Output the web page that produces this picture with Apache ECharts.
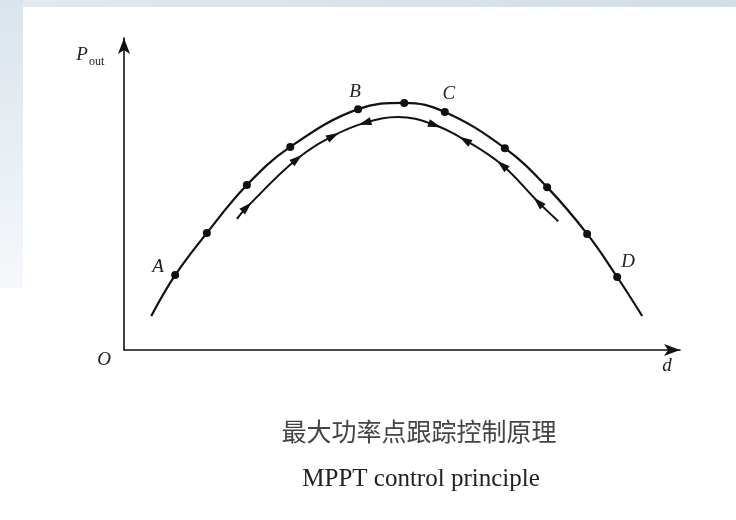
<!DOCTYPE html>
<html>
<head>
<meta charset="utf-8">
<script src="https://cdn.jsdelivr.net/npm/echarts@6/dist/echarts.min.js"></script>
<style>
  html, body { margin: 0; padding: 0; background: #fff; }
  #chart { width: 736px; height: 520px; }
</style>
</head>
<body>
<div id="chart"></div>
<script>
// P-d curve (relative units, d on x, Pout on y)
const curveD = [4.9, 9.2, 14.9, 22.1, 29.9, 42.1, 50.4, 57.7, 68.5, 76.1, 83.3, 88.7, 93.2];
const curveP = [10.9, 24.0, 37.5, 52.9, 65.1, 77.2, 79.2, 76.3, 64.7, 52.2, 37.2, 23.4, 10.9];
const curveDot = [false, true, true, true, true, true, true, true, true, true, true, true, false];
const curveNames = ["", "A", "", "", "", "B", "", "C", "", "", "", "D", ""];

// tracking path drawn just inside the curve
const trackD = [20.3, 22.1, 31.1, 37.6, 43.3, 49.3, 55.9, 61.3, 68.0, 74.5, 78.1];
const trackP = [42.0, 45.8, 61.2, 68.6, 72.8, 74.7, 72.1, 67.3, 59.3, 47.4, 41.3];
const trackArrow = [0, 1, 1, 1, -1, 0, 1, -1, -1, -1, 0]; // 1 = towards larger d, -1 = back

const captionCn = "最大功率点跟踪控制原理";
const captionEn = "MPPT control principle";

const INK = "#111";
const SERIF = "'Liberation Serif', 'DejaVu Serif', serif";
const labelOffset = { A: [-17, -8], B: [-3, -17], C: [4, -18], D: [11, -15] };

const chart = echarts.init(document.getElementById("chart"));

const outerData = curveD.map((d, i) => {
  const name = curveNames[i];
  const item = {
    value: [d, curveP[i]],
    symbol: curveDot[i] ? "circle" : "none",
  };
  if (name) {
    item.name = name;
    item.label = {
      show: true,
      formatter: name,
      position: "inside",
      offset: labelOffset[name],
      color: "#222",
      fontFamily: SERIF,
      fontStyle: "italic",
      fontSize: 19,
    };
  }
  return item;
});

const innerData = trackD.map((d, i) => [d, trackP[i]]);

const axisCommon = (min, max) => ({
  type: "value",
  min,
  max,
  axisLine: {
    show: true,
    lineStyle: { color: INK, width: 1.6 },
    symbol: ["none", "arrow"],
    symbolSize: [9, 16],
  },
  axisTick: { show: false },
  axisLabel: { show: false },
  splitLine: { show: false },
});

const bgText = (text, x, y, style) => ({
  type: "text",
  x,
  y,
  silent: true,
  style: Object.assign({ text, fill: "#222", align: "center", verticalAlign: "middle" }, style),
});

chart.setOption({
  animation: false,
  backgroundColor: "#fff",
  grid: { left: 124, right: 56, top: 38, bottom: 170 },
  xAxis: axisCommon(0, 100),
  yAxis: axisCommon(0, 100),
  graphic: [
    {
      type: "rect", z: -10, silent: true,
      shape: { x: 0, y: 0, width: 736, height: 7 },
      style: {
        fill: new echarts.graphic.LinearGradient(0, 0, 1, 0, [
          { offset: 0, color: "#e2e9ef" },
          { offset: 0.5, color: "#dae3eb" },
          { offset: 1, color: "#d3dde6" },
        ]),
      },
    },
    {
      type: "rect", z: -10, silent: true,
      shape: { x: 0, y: 0, width: 23, height: 288 },
      style: {
        fill: new echarts.graphic.LinearGradient(0, 0, 0, 1, [
          { offset: 0, color: "#dbe4ec" },
          { offset: 0.6, color: "#eaf0f5" },
          { offset: 1, color: "#f6f8fb" },
        ]),
      },
    },
    bgText("P", 82, 55, { fontFamily: SERIF, fontStyle: "italic", fontSize: 19 }),
    bgText("out", 89, 62, { fontFamily: SERIF, fontSize: 12, align: "left" }),
    bgText("O", 104, 360, { fontFamily: SERIF, fontStyle: "italic", fontSize: 19 }),
    bgText("d", 667, 366, { fontFamily: SERIF, fontStyle: "italic", fontSize: 19 }),
    bgText(captionCn, 419, 431, { fontFamily: "'Noto Sans CJK SC', sans-serif", fontSize: 25, fill: "#444" }),
    bgText(captionEn, 421, 479, { fontFamily: SERIF, fontSize: 25, fill: "#222" }),
  ],
  series: [
    {
      name: "curve",
      type: "line",
      smooth: 0.4,
      data: outerData,
      symbolSize: 8,
      itemStyle: { color: INK, opacity: 1 },
      lineStyle: { color: INK, width: 2.2 },
      z: 3,
    },
    {
      name: "track",
      type: "line",
      smooth: 0.4,
      data: innerData,
      showSymbol: false,
      lineStyle: { color: INK, width: 2 },
      z: 3,
    },
  ],
});

// arrowheads along the tracking path, rotated to the local tangent
const px = trackD.map((d, i) => chart.convertToPixel({ gridIndex: 0 }, [d, trackP[i]]));
const arrowData = [];
trackArrow.forEach((dir, i) => {
  if (!dir) return;
  const a = px[Math.max(i - 1, 0)];
  const b = px[Math.min(i + 1, px.length - 1)];
  const dx = (b[0] - a[0]) * dir;
  const dy = (b[1] - a[1]) * dir;
  const rot = (Math.atan2(-dy, dx) * 180) / Math.PI - 90;
  arrowData.push({ value: [trackD[i], trackP[i]], symbolRotate: rot });
});

chart.setOption({
  series: [
    {},
    {},
    {
      name: "arrows",
      type: "scatter",
      data: arrowData,
      symbol: "triangle",
      symbolSize: [8, 13],
      itemStyle: { color: INK, opacity: 1 },
      z: 4,
    },
  ],
});
</script>
</body>
</html>
